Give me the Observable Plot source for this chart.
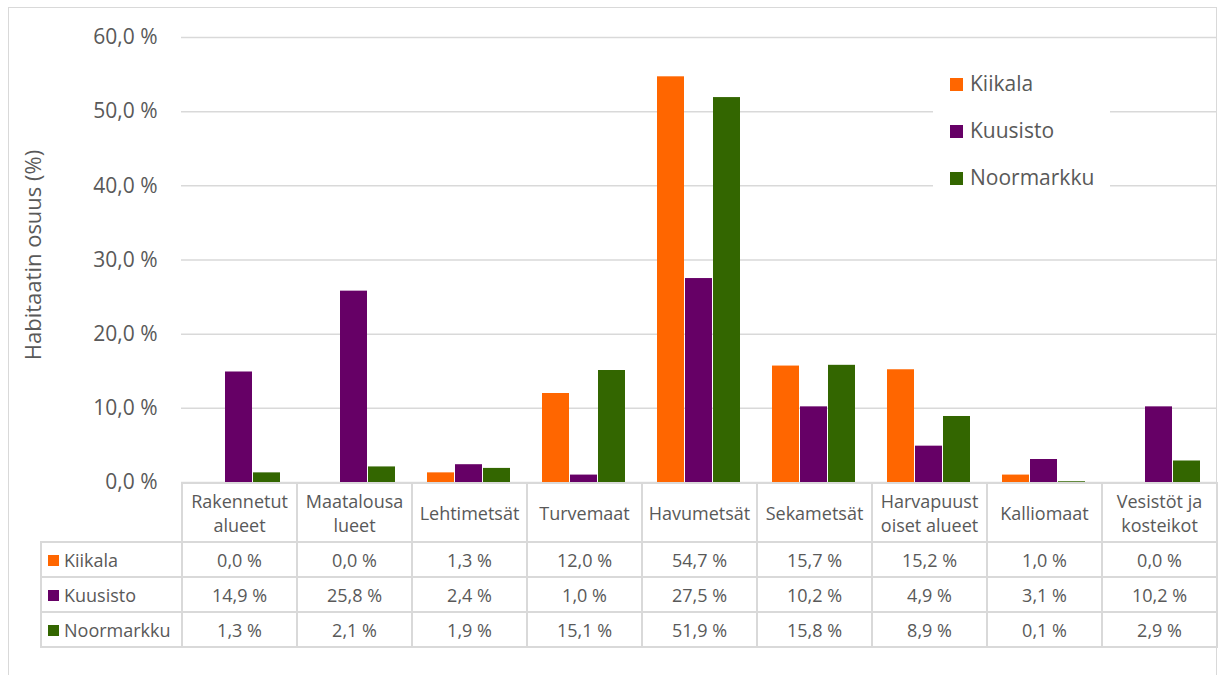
<!DOCTYPE html>
<html>
<head>
<meta charset="utf-8">
<script src="https://cdn.jsdelivr.net/npm/d3@7"></script>
<script src="https://cdn.jsdelivr.net/npm/@observablehq/plot@0.6"></script>
<style>
  body { margin: 0; background: #fff; font-family: "Open Sans", sans-serif; color: #595959; }
  #wrap { position: relative; width: 1224px; height: 675px; overflow: hidden; }
  #frame { position: absolute; left: 8px; top: 7px; width: 1209px; height: 720px; border: 1px solid #d9d9d9; box-sizing: border-box; }
  #chart { position: absolute; left: 0; top: 0; }
  #ytitle { position: absolute; left: 32px; top: 255px; transform: translate(-50%, -50%) rotate(-90deg); font-size: 22px; white-space: nowrap; color: #595959; }
  #legend { position: absolute; left: 933px; top: 62px; width: 177px; height: 133px; background: #fff; }
  .li { position: absolute; left: 17px; font-size: 21px; line-height: 24px; white-space: nowrap; }
  .sw { display: inline-block; width: 13px; height: 13px; margin-right: 7px; vertical-align: 0px; }
  #tbl { position: absolute; left: 40px; top: 482px; border-collapse: collapse; table-layout: fixed; font-size: 18px; color: #595959; }
  #tbl td { border: 2px solid #d9d9d9; text-align: center; padding: 0; line-height: 24px; white-space: nowrap; }
  #tbl td.corner { border-top: none; border-left: none; }
  #tbl td.name { text-align: left; padding-left: 6px; }
  #tbl .sw { width: 11px; height: 11px; margin-right: 5px; vertical-align: 1px; }
</style>
</head>
<body>
<div id="wrap">
  <div id="frame"></div>
  <div id="chart"></div>
  <div id="ytitle">Habitaatin osuus (%)</div>
  <div id="legend"></div>
  <table id="tbl"></table>
</div>
<script>
const categories = ["Rakennetut alueet", "Maatalousalueet", "Lehtimetsät", "Turvemaat", "Havumetsät", "Sekametsät", "Harvapuustoiset alueet", "Kalliomaat", "Vesistöt ja kosteikot"];
const headerLabels = [["Rakennetut", "alueet"], ["Maatalousa", "lueet"], ["Lehtimetsät"], ["Turvemaat"], ["Havumetsät"], ["Sekametsät"], ["Harvapuust", "oiset alueet"], ["Kalliomaat"], ["Vesistöt ja", "kosteikot"]];
const series = ["Kiikala", "Kuusisto", "Noormarkku"];
const colors = ["#FF6600", "#660066", "#336600"];
const kiikala = [0.0, 0.0, 1.3, 12.0, 54.7, 15.7, 15.2, 1.0, 0.0];
const kuusisto = [14.9, 25.8, 2.4, 1.0, 27.5, 10.2, 4.9, 3.1, 10.2];
const noormarkku = [1.3, 2.1, 1.9, 15.1, 51.9, 15.8, 8.9, 0.1, 2.9];
const yTicks = [0, 10, 20, 30, 40, 50, 60];

const values = [kiikala, kuusisto, noormarkku];
const data = [];
categories.forEach((c, i) => series.forEach((s, j) => data.push({category: c, series: s, value: values[j][i]})));

const fmt = v => v.toFixed(1).replace(".", ",") + " %";

const chart = Plot.plot({
  width: 1224,
  height: 675,
  marginLeft: 181,
  marginRight: 8,
  marginTop: 37,
  marginBottom: 193,
  style: {fontFamily: "Open Sans, sans-serif", fontSize: "21px", color: "#595959", background: "transparent"},
  fx: {domain: categories, padding: 0, axis: null},
  x: {domain: series, paddingInner: 0.03, paddingOuter: 0.5, axis: null},
  y: {domain: [0, 60], ticks: yTicks, tickFormat: fmt, tickSize: 0, tickPadding: 24, label: null},
  color: {domain: series, range: colors},
  marks: [
    Plot.ruleY(yTicks, {stroke: "#d9d9d9", strokeWidth: 1.5}),
    Plot.barY(data, {fx: "category", x: "series", y: "value", fill: "series"}),
    Plot.axisY({ticks: yTicks, tickFormat: fmt, tickSize: 0, tickPadding: 24, fontSize: 21, fill: "#595959", label: null})
  ]
});
document.getElementById("chart").appendChild(chart);

// legend
const leg = document.getElementById("legend");
series.forEach((s, j) => {
  const d = document.createElement("div");
  d.className = "li";
  d.style.top = (9 + j * 47) + "px";
  d.innerHTML = `<span class="sw" style="background:${colors[j]}"></span>${s}`;
  leg.appendChild(d);
});

// data table
const tbl = document.getElementById("tbl");
const cg = document.createElement("colgroup");
cg.innerHTML = `<col style="width:141px">` + categories.map(() => `<col style="width:115px">`).join("");
tbl.appendChild(cg);
const hr = document.createElement("tr");
hr.style.height = "59px";
hr.innerHTML = `<td class="corner"></td>` + headerLabels.map(l => `<td>${l.join("<br>")}</td>`).join("");
tbl.appendChild(hr);
series.forEach((s, j) => {
  const tr = document.createElement("tr");
  tr.style.height = "35px";
  tr.innerHTML = `<td class="name"><span class="sw" style="background:${colors[j]}"></span>${s}</td>` +
    values[j].map(v => `<td>${fmt(v)}</td>`).join("");
  tbl.appendChild(tr);
});
</script>
</body>
</html>
